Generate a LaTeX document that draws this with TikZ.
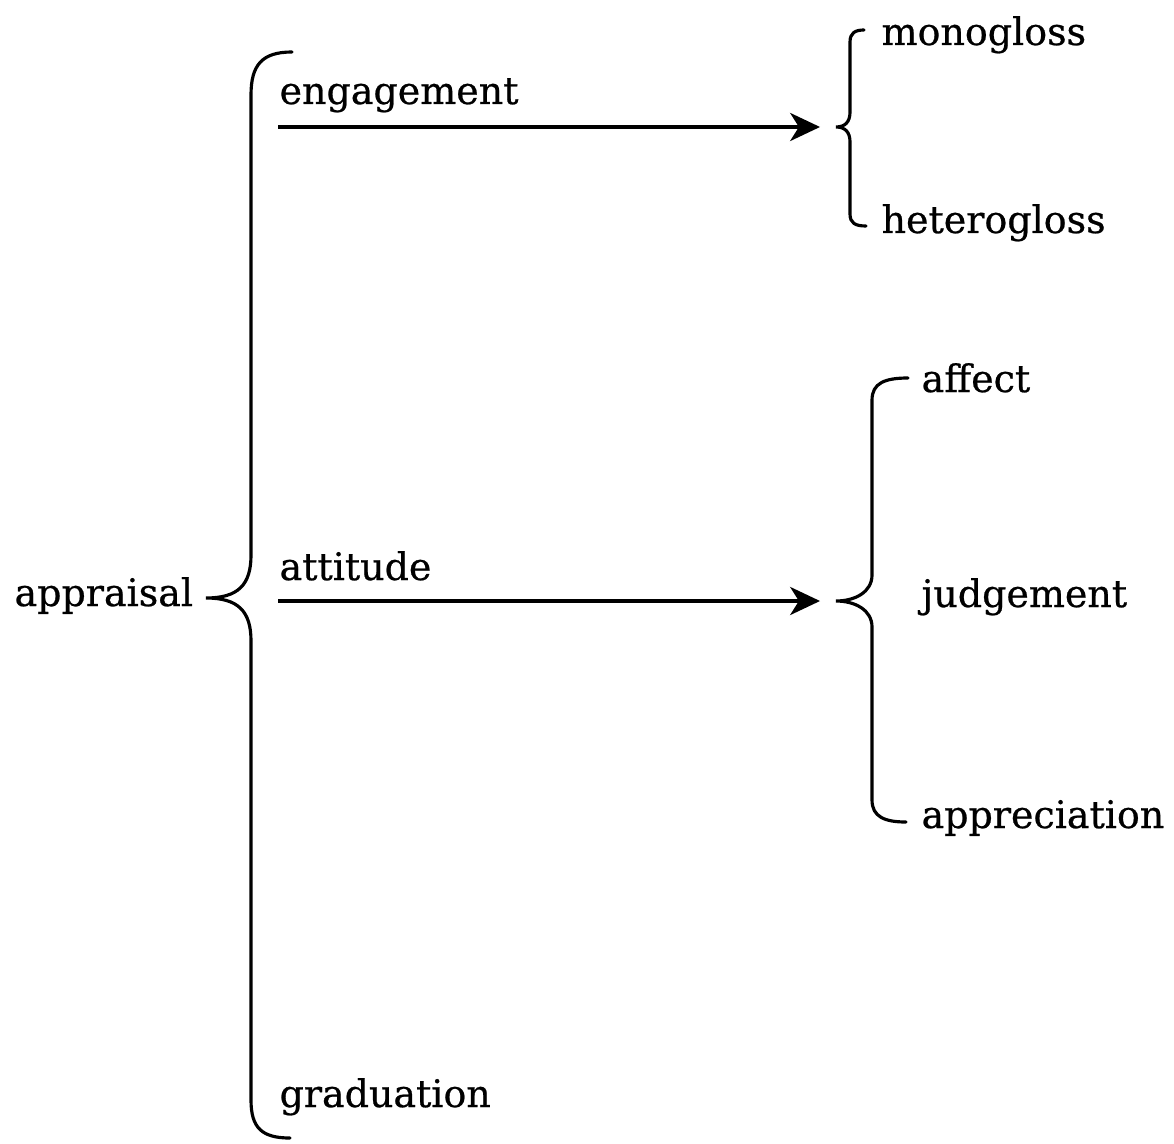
\documentclass[tikz,border=0pt]{standalone}
\usepackage{fontspec}
\setmainfont[FakeBold=0.6]{DejaVu Serif}
\usetikzlibrary{arrows.meta}

\begin{document}
\begin{tikzpicture}[x=0.01cm, y=-0.01cm,
                    >={Stealth[length=8.5pt,width=8pt,inset=2.5pt]},
                    every node/.style={inner sep=0pt, anchor=base west,
                                       font=\fontsize{10.8pt}{13pt}\selectfont},
                    brace/.style={line width=0.9pt, line cap=round},
                    every path/.style={line width=0.9pt}]
  \useasboundingbox (0,0) rectangle (1174,1143);
  % left side
  \node (appraisal) at (13,606) {appraisal};
  \draw[brace] (292,52) .. controls (262,52) and (251,65) .. (251,95) -- (251,555)
               .. controls (251,585) and (238,598) .. (206,598)
               .. controls (238,598) and (251,611) .. (251,641) -- (251,1100)
               .. controls (251,1128) and (262,1138) .. (290,1138);
  \node (engagement) at (278,104) {engagement};
  \node (attitude) at (278,580) {attitude};
  \node (graduation) at (278,1107) {graduation};
  % engagement options
  \coordinate (engFrom) at (278,127);
  \coordinate (engTo) at (820,127);
  \draw[->] (engFrom) -- (engTo);
  \draw[brace] (864,30) .. controls (855,30) and (850,33) .. (850,42) -- (850,112)
               .. controls (850,122) and (845,127) .. (836,127)
               .. controls (845,127) and (850,132) .. (850,142) -- (850,214)
               .. controls (850,223) and (855,226) .. (866,226);
  \node (monogloss) at (880,45) {monogloss};
  \node (heterogloss) at (880,233) {heterogloss};
  % attitude options
  \coordinate (attFrom) at (278,601);
  \coordinate (attTo) at (820,601);
  \draw[->] (attFrom) -- (attTo);
  \draw[brace] (908,378) .. controls (885,378) and (872,383) .. (872,400) -- (872,575)
               .. controls (872,592) and (855,601) .. (836,601)
               .. controls (855,601) and (872,610) .. (872,627) -- (872,800)
               .. controls (872,817) and (885,822) .. (906,822);
  \node (affect) at (920,392) {affect};
  \node (judgement) at (920,607) {judgement};
  \node (appreciation) at (920,828) {appreciation};
\end{tikzpicture}
\end{document}
